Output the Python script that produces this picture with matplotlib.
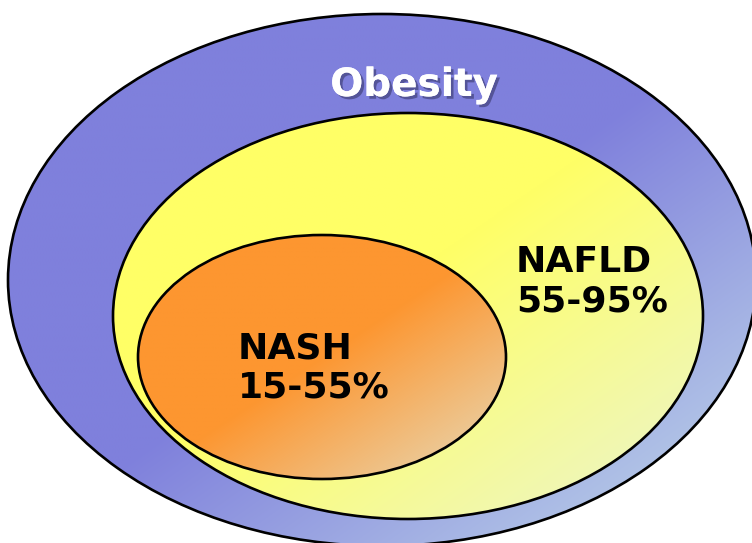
#! /usr/bin/env python3
import numpy as np
import matplotlib
matplotlib.use("Agg")
import matplotlib.pyplot as plt
from matplotlib.patches import Ellipse
import matplotlib.patheffects as pe
from matplotlib.colors import to_rgb

# labels and prevalence ranges shown in the diagram
names = ["Obesity", "NAFLD", "NASH"]
ranges = ["", "55-95%", "15-55%"]

# layout (pixel space): centre x, centre y, width, height
shapes = [
  (382, 280, 748, 532),
  (408, 316, 590, 406),
  (322, 357, 368, 244),
]
# gradient start/end colours
fills = [
  ("#7f80dc", "#b8cde8"),
  ("#ffff66", "#eef6c0"),
  ("#fd9630", "#ead0a4"),
]
# gradient start point along the diagonal (0..1)
starts = [0.5, 0.45, 0.5]

W, H = 752, 543
fig = plt.figure(figsize=(W / 100, H / 100), dpi=100)
ax = fig.add_axes([0, 0, 1, 1])
ax.set_xlim(0, W)
ax.set_ylim(H, 0)
ax.axis("off")


def draw_ellipse(cx, cy, w, h, c0, c1, s0, z):
  x0, y0 = cx - w / 2, cy - h / 2
  xx, yy = np.meshgrid(np.linspace(0, 1, 300), np.linspace(0, 1, 300))
  u = (xx + yy) / 2
  t = np.clip((u - s0) / (1 - s0 - 0.08), 0, 1)[..., None]
  img = (1 - t) * np.array(to_rgb(c0)) + t * np.array(to_rgb(c1))
  el = Ellipse((cx, cy), w, h, facecolor="none", edgecolor="black",
               lw=1.9, zorder=z + 1)
  ax.add_patch(el)
  im = ax.imshow(img, extent=(x0, x0 + w, y0 + h, y0), origin="upper",
                 zorder=z, interpolation="bilinear")
  im.set_clip_path(el)


for i, (cx, cy, w, h) in enumerate(shapes):
  draw_ellipse(cx, cy, w, h, fills[i][0], fills[i][1], starts[i], 2 * i + 1)

ax.set_xlim(0, W)
ax.set_ylim(H, 0)

ax.text(414, 85, names[0], color="white", fontsize=28, fontweight="bold",
        family="DejaVu Sans", ha="center", va="center", zorder=10,
        path_effects=[pe.withSimplePatchShadow(offset=(2, -2),
                                               shadow_rgbFace="#2a2a55",
                                               alpha=0.5),
                      pe.Normal()])

ax.text(516, 282, names[1] + "\n" + ranges[1], color="black", fontsize=26,
        fontweight="bold", family="DejaVu Sans", ha="left", va="center",
        linespacing=1.2, zorder=10)

ax.text(238, 368, names[2] + "\n" + ranges[2], color="black", fontsize=26,
        fontweight="bold", family="DejaVu Sans", ha="left", va="center",
        linespacing=1.2, zorder=10)

fig.savefig("out.png", dpi=100)
